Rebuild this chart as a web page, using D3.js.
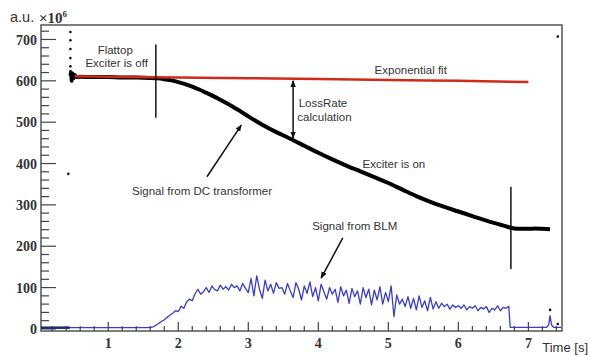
<!DOCTYPE html>
<html>
<head>
<meta charset="utf-8">
<script src="https://cdn.jsdelivr.net/npm/d3@7"></script>
<style>
  html, body { margin: 0; padding: 0; background: #fff; }
  svg { display: block; }
  .note { font-family: "Liberation Sans", Arial, sans-serif; font-size: 11.5px; fill: #333; }
  .tick-label { font-family: "Liberation Serif", "Times New Roman", serif; font-weight: bold; font-size: 14px; fill: #333; }
</style>
</head>
<body>
<svg id="chart" width="590" height="355"></svg>
<script>
// signal from DC transformer (a.u. x10^6) vs time [s]
const dcTime  = [0.46, 0.47, 0.48, 0.49, 0.50, 0.52, 0.55, 0.6, 0.8, 1.0, 1.2, 1.4, 1.6, 1.7, 1.8, 1.9, 2.0, 2.1, 2.2, 2.3, 2.4, 2.5, 2.6, 2.7, 2.8, 2.9, 3.0, 3.2, 3.4, 3.6, 3.8, 4.0, 4.2, 4.4, 4.6, 4.8, 5.0, 5.2, 5.4, 5.6, 5.8, 6.0, 6.2, 6.4, 6.6, 6.7, 6.8, 6.9, 7.0, 7.1, 7.2, 7.31];
const dcValue = [612, 620, 600, 618, 606, 614, 609, 610, 609, 609, 608, 608, 607, 606, 604, 601, 597, 592, 586, 579, 571, 563, 554, 545, 535, 525, 514, 494, 476, 460, 443, 426, 410, 395, 381, 367, 353, 337, 321, 307, 295, 284, 273, 262, 252, 247, 243, 242, 242, 243, 242, 241];

// stray points of the DC signal
const dotTime  = [0.46, 0.46, 0.46, 0.46, 0.46, 0.46, 0.43, 7.42, 7.31, 7.42];
const dotValue = [718, 698, 677, 655, 635, 623, 375, 707, 46, 12];

// exponential fit
const fitTime  = [0.52, 1, 2, 3, 4, 5, 6, 7.0];
const fitValue = [611, 610, 608, 606.5, 604.5, 602, 600, 597];

// signal from BLM
const blmHeadTime  = [0.04, 0.45, 1.0, 1.56];
const blmHeadValue = [3, 3, 3, 3];
const blmStart = 1.60, blmStep = 0.04;
const blmValue = [3, 5, 9, 13, 18, 22, 28, 33, 38, 44, 42, 55, 50, 66, 72, 68, 85, 96, 84, 90,
  100, 88, 104, 95, 92, 106, 96, 102, 94, 108, 100, 104, 92, 110, 98, 88, 122, 80, 128, 96,
  74, 118, 92, 108, 86, 112, 98, 100, 84, 110, 92, 76, 112, 96, 70, 104, 86, 114, 78, 100,
  68, 108, 90, 72, 100, 84, 96, 64, 102, 80, 94, 62, 98, 78, 92, 60, 100, 76, 96, 58,
  94, 70, 102, 60, 88, 66, 104, 30, 82, 60, 72, 54, 78, 50, 74, 46, 80, 52, 68, 44,
  76, 48, 66, 50, 62, 54, 60, 48, 58, 52, 56, 50, 58, 46, 54, 50, 56, 44, 52, 48,
  54, 40, 50, 46, 56, 44, 52, 50, 55];
const blmTailTime  = [6.74, 7.26, 7.29, 7.31, 7.33, 7.36, 7.47];
const blmTailValue = [4, 4, 10, 32, 10, 4, 4];

// axes
const xTicks = [1, 2, 3, 4, 5, 6, 7];
const yTicks = [0, 100, 200, 300, 400, 500, 600, 700];

// annotations (data coordinates)
const markers = [
  { t: 1.68, v0: 511, v1: 688 },
  { t: 6.75, v0: 145, v1: 344 }
];
const notes = [
  { t: 1.10, v: 675, text: "Flattop", anchor: "middle" },
  { t: 1.12, v: 643, text: "Exciter is off", anchor: "middle" },
  { t: 5.32, v: 626, text: "Exponential fit", anchor: "middle" },
  { t: 3.72, v: 547, text: "LossRate", anchor: "start" },
  { t: 3.70, v: 513, text: "calculation", anchor: "start" },
  { t: 5.08, v: 399, text: "Exciter is on", anchor: "middle" },
  { t: 2.34, v: 334, text: "Signal from DC transformer", anchor: "middle" },
  { t: 4.52, v: 249, text: "Signal from BLM", anchor: "middle" }
];
const arrows = [
  { t0: 2.41, v0: 368, t1: 2.90, v1: 493, both: false },
  { t0: 4.35, v0: 220, t1: 4.04, v1: 123, both: false },
  { t0: 3.64, v0: 462, t1: 3.64, v1: 600, both: true }
];

const svg = d3.select("#chart");
const plotL = 41, plotR = 562, plotT = 25, plotB = 331;

const x = d3.scaleLinear().domain([0.04, 7.48]).range([plotL, plotR]);
const y = d3.scaleLinear().domain([-5, 735]).range([plotB, plotT]);

// arrow head
svg.append("defs").append("marker")
  .attr("id", "head")
  .attr("viewBox", "0 0 10 10")
  .attr("refX", 9).attr("refY", 5)
  .attr("markerWidth", 7).attr("markerHeight", 7)
  .attr("markerUnits", "userSpaceOnUse")
  .attr("orient", "auto-start-reverse")
  .append("path").attr("d", "M0,1 L10,5 L0,9 Z").attr("fill", "#111");

// frame
svg.append("rect")
  .attr("x", plotL).attr("y", plotT)
  .attr("width", plotR - plotL).attr("height", plotB - plotT)
  .attr("fill", "none").attr("stroke", "#555").attr("stroke-width", 1.5);

// y ticks (inside, pointing right)
const yAxis = svg.append("g").attr("stroke", "#444").attr("stroke-width", 1.2);
yAxis.selectAll("line.minor")
  .data(d3.range(0, 735, 20).filter(v => v % 100 !== 0))
  .join("line").attr("class", "minor")
  .attr("x1", plotL).attr("x2", plotL + 8)
  .attr("y1", d => y(d)).attr("y2", d => y(d));
yAxis.selectAll("line.major")
  .data(yTicks)
  .join("line").attr("class", "major")
  .attr("x1", plotL).attr("x2", plotL + 15)
  .attr("y1", d => y(d)).attr("y2", d => y(d));
svg.selectAll("text.ylab")
  .data(yTicks)
  .join("text").attr("class", "ylab tick-label")
  .attr("x", plotL - 4).attr("y", d => y(d))
  .attr("text-anchor", "end").attr("dy", "0.36em")
  .text(d => d);

// x ticks (inside, pointing up)
const xAxis = svg.append("g").attr("stroke", "#444").attr("stroke-width", 1.2);
xAxis.selectAll("line.minor")
  .data(d3.range(0.2, 7.45, 0.2).filter(v => Math.abs(v - Math.round(v)) > 0.01))
  .join("line").attr("class", "minor")
  .attr("x1", d => x(d)).attr("x2", d => x(d))
  .attr("y1", plotB).attr("y2", plotB - 5);
xAxis.selectAll("line.major")
  .data(xTicks)
  .join("line").attr("class", "major")
  .attr("x1", d => x(d)).attr("x2", d => x(d))
  .attr("y1", plotB).attr("y2", plotB - 9);
svg.selectAll("text.xlab")
  .data(xTicks)
  .join("text").attr("class", "xlab tick-label")
  .attr("x", d => x(d)).attr("y", plotB + 17)
  .attr("text-anchor", "middle")
  .text(d => d);

// axis titles
svg.append("text")
  .attr("x", 10).attr("y", 22)
  .attr("font-family", "Liberation Sans, Arial, sans-serif")
  .attr("font-size", 14.5).attr("fill", "#333")
  .text("a.u.");
const mult = svg.append("text")
  .attr("x", 39).attr("y", 23)
  .attr("font-family", "Liberation Serif, Times New Roman, serif")
  .attr("font-weight", "bold").attr("font-size", 15).attr("fill", "#333");
mult.append("tspan").text("×10");
mult.append("tspan").attr("font-size", 9).attr("dy", -6).text("6");
svg.append("text")
  .attr("x", 588).attr("y", 352)
  .attr("text-anchor", "end")
  .attr("font-family", "Liberation Sans, Arial, sans-serif")
  .attr("font-size", 13).attr("fill", "#333")
  .text("Time [s]");

// BLM signal
const blmTime = blmValue.map((_, i) => blmStart + i * blmStep);
const blmT = [...blmHeadTime, ...blmTime, ...blmTailTime];
const blmV = [...blmHeadValue, ...blmValue, ...blmTailValue];
const line = d3.line().x(d => x(d[0])).y(d => y(d[1]));
const smooth = d3.line().curve(d3.curveMonotoneX).x(d => x(d[0])).y(d => y(d[1]));

svg.append("path")
  .datum(d3.zip(blmT, blmV))
  .attr("d", line)
  .attr("fill", "none").attr("stroke", "#3a3ccf").attr("stroke-width", 1.3)
  .attr("stroke-linejoin", "round");
svg.append("path")
  .datum(d3.zip(blmHeadTime.slice(0, 2), blmHeadValue.slice(0, 2)))
  .attr("d", line)
  .attr("fill", "none").attr("stroke", "#1f2a78").attr("stroke-width", 2.5);

// DC transformer signal
svg.append("path")
  .datum(d3.zip(dcTime, dcValue))
  .attr("d", smooth)
  .attr("fill", "none").attr("stroke", "#000").attr("stroke-width", 4)
  .attr("stroke-linejoin", "round");
svg.selectAll("circle.dot")
  .data(d3.zip(dotTime, dotValue))
  .join("circle").attr("class", "dot")
  .attr("cx", d => x(d[0])).attr("cy", d => y(d[1]))
  .attr("r", 1.3).attr("fill", "#111");

// exponential fit
svg.append("path")
  .datum(d3.zip(fitTime, fitValue))
  .attr("d", smooth)
  .attr("fill", "none").attr("stroke", "#d02a1a").attr("stroke-width", 2.5);

// vertical markers
svg.selectAll("line.marker")
  .data(markers)
  .join("line").attr("class", "marker")
  .attr("x1", d => x(d.t)).attr("x2", d => x(d.t))
  .attr("y1", d => y(d.v0)).attr("y2", d => y(d.v1))
  .attr("stroke", "#111").attr("stroke-width", 1.5);

// arrows
svg.selectAll("line.arrow")
  .data(arrows)
  .join("line").attr("class", "arrow")
  .attr("x1", d => x(d.t0)).attr("y1", d => y(d.v0))
  .attr("x2", d => x(d.t1)).attr("y2", d => y(d.v1))
  .attr("stroke", "#111").attr("stroke-width", 1.5)
  .attr("marker-end", "url(#head)")
  .attr("marker-start", d => d.both ? "url(#head)" : null);

// notes
svg.selectAll("text.note")
  .data(notes)
  .join("text").attr("class", "note")
  .attr("x", d => x(d.t)).attr("y", d => y(d.v))
  .attr("dy", "0.35em")
  .attr("text-anchor", d => d.anchor)
  .text(d => d.text);
</script>
</body>
</html>
